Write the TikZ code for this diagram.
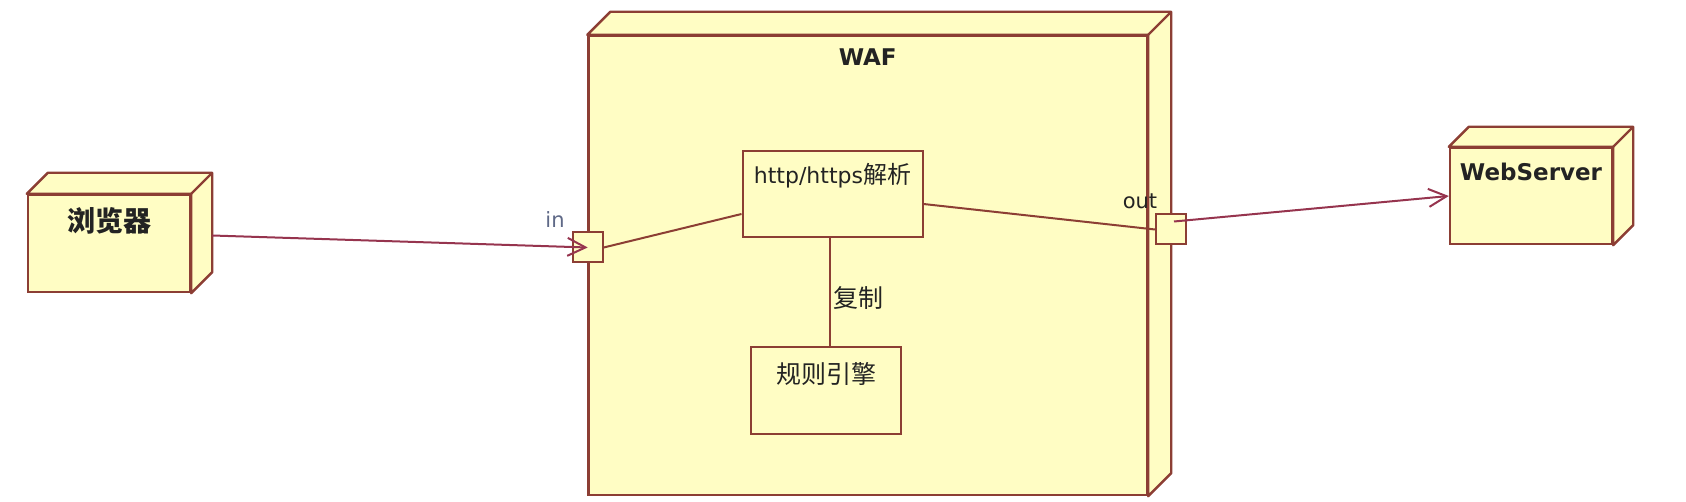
\documentclass[tikz,border=0pt]{standalone}
\usepackage{fontspec}
\setmainfont{DejaVu Sans}
\newfontfamily\cjk{Noto Sans CJK SC}
\usetikzlibrary{arrows.meta}

\definecolor{umlfill}{RGB}{255,253,196}
\definecolor{umlline}{RGB}{140,62,52}
\definecolor{linkline}{RGB}{150,52,78}
\definecolor{textdark}{RGB}{35,35,35}
\definecolor{portblue}{RGB}{95,105,135}

% top and side faces of a node box: #1 = node name, #2 = depth
\newcommand{\nodedepth}[2]{%
  \draw[umlline, fill=umlfill, line width=1.2pt, line join=round]
    (#1.north west) -- ([shift={(#2,-#2)}]#1.north west)
    -- ([shift={(#2,-#2)}]#1.north east) -- ([shift={(#2,-#2)}]#1.south east)
    -- (#1.south east) -- (#1.north east) -- cycle;
  \draw[umlline, line width=1.2pt] (#1.north east) -- ([shift={(#2,-#2)}]#1.north east);
}

\begin{document}
\begin{tikzpicture}[x=0.5pt, y=-0.5pt,
    nodebox/.style={draw=umlline, fill=umlfill, line width=1.2pt, inner sep=0pt},
    partbox/.style={draw=umlline, fill=umlfill, line width=1pt, inner sep=0pt},
    portbox/.style={draw=umlline, fill=umlfill, line width=1pt, minimum size=15pt, inner sep=0pt},
    titletext/.style={text=textdark, font=\bfseries\fontsize{11.5}{13}\selectfont, inner sep=0pt},
    parttext/.style={text=textdark, font=\fontsize{11}{13}\selectfont, inner sep=0pt},
    wire/.style={umlline, line width=1pt},
    link/.style={linkline, line width=1pt, -{Straight Barb[length=9pt, width=9pt]}}]

    \useasboundingbox (0,0) rectangle (1686,502);

    % the three deployment nodes
    \node[nodebox, minimum width=81pt, minimum height=48.5pt] (browser) at (109,243.5) {};
    \nodedepth{browser}{21}
    \node[titletext, font=\cjk\bfseries\fontsize{14}{16}\selectfont] (browserlbl)
      at ([yshift=-13.5pt]browser.north) {浏览器};

    \node[nodebox, minimum width=81pt, minimum height=48pt] (webserver) at (1531,196) {};
    \nodedepth{webserver}{20}
    \node[titletext] (webserverlbl) at ([yshift=-12.5pt]webserver.north) {WebServer};

    \node[nodebox, minimum width=279.25pt, minimum height=229.5pt] (waf) at (867.75,265.5) {};
    \nodedepth{waf}{23}
    \node[titletext] (waflbl) at ([yshift=-11pt]waf.north) {WAF};

    % parts inside the WAF
    \node[partbox, minimum width=90pt, minimum height=43pt] (http) at (832.5,194.5) {};
    \node[parttext] (httplbl) at ([yshift=-12.7pt]http.north) {http/https{\cjk\fontsize{12}{14}\selectfont 解析}};

    \node[partbox, minimum width=75pt, minimum height=43.5pt] (rules) at (826,390.5) {};
    \node[parttext, font=\cjk\fontsize{12.5}{14}\selectfont] (ruleslbl)
      at ([yshift=-14pt]rules.north) {规则引擎};

    % ports on the WAF border
    \node[portbox] (inport) at (587.7,247.5) {};
    \node[parttext, text=portblue, font=\fontsize{10.5}{12}\selectfont] (inlbl) at (555,220) {in};
    \node[portbox] (outport) at (1171,229.5) {};
    \node[parttext, font=\fontsize{10.5}{12}\selectfont] (outlbl) at (1140,201) {out};

    % connectors
    \draw[wire] (inport.east) -- ([yshift=-9.75pt]http.west);
    \draw[wire] ([yshift=-4.75pt]http.east) -- (outport.west);
    \draw[wire] ([xshift=-1.25pt]http.south) -- ([xshift=-1.25pt]http.south |- rules.north)
      node[pos=0.55, right, inner sep=1pt, text=textdark, font=\cjk\fontsize{12.5}{14}\selectfont] (copylbl) {复制};

    \draw[link] ([shift={(21,-8)}]browser.east) -- (inport.center);
    \draw[link] ([shift={(3,-8)}]outport.center) -- (webserver.west);

\end{tikzpicture}
\end{document}
